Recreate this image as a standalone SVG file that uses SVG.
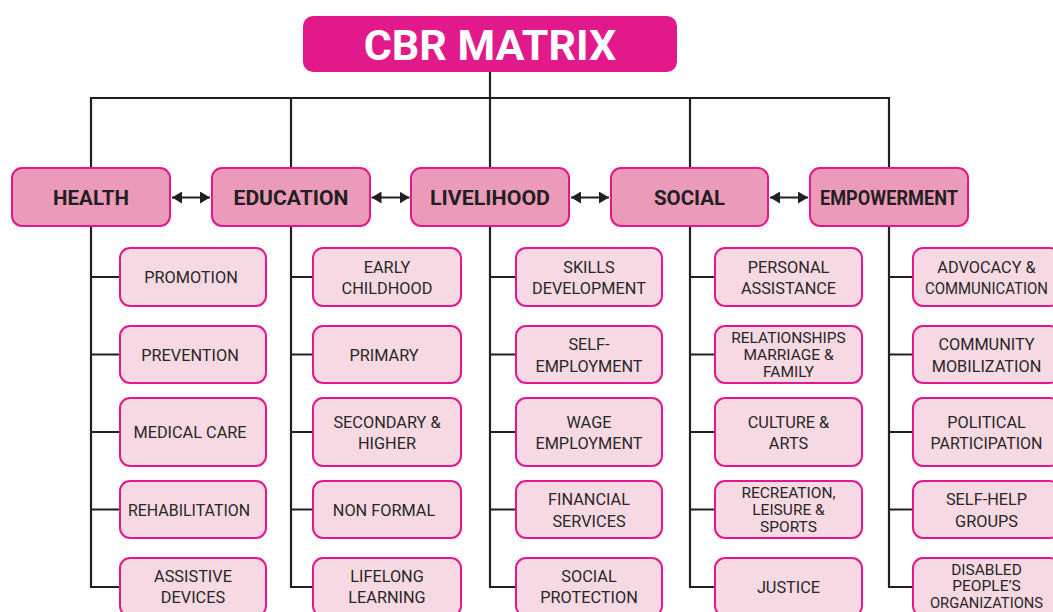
<svg xmlns="http://www.w3.org/2000/svg" width="1053" height="612" viewBox="0 0 1053 612">
<style>
.ln{fill:none;stroke:#231F20;stroke-width:2.2}
.ar{fill:none;stroke:#231F20;stroke-width:2.2;marker-start:url(#ah);marker-end:url(#ah)}
.title{fill:#E2198A}
.tt{font-family:Roboto,"Liberation Sans",sans-serif;font-weight:700;font-size:43px;fill:#fff;text-anchor:middle}
.cat{fill:#EC9ABA;stroke:#E4188C;stroke-width:2}
.ct{font-family:Roboto,"Liberation Sans",sans-serif;font-weight:700;font-size:20.5px;fill:#231F20;text-anchor:middle}
.ch{fill:#F6D9E3;stroke:#E4188C;stroke-width:2}
.t{font-family:Roboto,"Liberation Sans",sans-serif;font-size:16.3px;fill:#2A2627;text-anchor:middle}
.t3{font-family:Roboto,"Liberation Sans",sans-serif;font-size:15.5px;fill:#2A2627;text-anchor:middle}
</style>
<defs>
<marker id="ah" viewBox="0 0 10 12" refX="10" refY="6" markerUnits="userSpaceOnUse" markerWidth="10" markerHeight="12" orient="auto-start-reverse">
<path d="M0,0 L10,6 L0,12 Z" fill="#231F20"/>
</marker>
</defs>

<g id="connectors">
<path class="ln" d="M490,72 V98 M91,168 V98 H889 V168 M291,98 V168 M490,98 V168 M690,98 V168"/>
<path class="ln" d="M91,226 V587 H120 M91,277 H120 M91,354.5 H120 M91,432 H120 M91,509.5 H120"/>
<path class="ln" d="M291,226 V587 H313 M291,277 H313 M291,354.5 H313 M291,432 H313 M291,509.5 H313"/>
<path class="ln" d="M490,226 V587 H516 M490,277 H516 M490,354.5 H516 M490,432 H516 M490,509.5 H516"/>
<path class="ln" d="M690,226 V587 H715 M690,277 H715 M690,354.5 H715 M690,432 H715 M690,509.5 H715"/>
<path class="ln" d="M889,226 V587 H913 M889,277 H913 M889,354.5 H913 M889,432 H913 M889,509.5 H913"/>
<path class="ar" d="M172,197.5 H210"/>
<path class="ar" d="M371.5,197.5 H409.5"/>
<path class="ar" d="M571,197.5 H609"/>
<path class="ar" d="M770,197.5 H808"/>
</g>

<g id="title">
<rect class="title" x="303" y="16" width="374" height="56" rx="10"/>
<text class="tt" x="490" y="60">CBR MATRIX</text>
</g>

<g id="health">
<rect class="cat" x="12" y="168" width="158" height="58" rx="10"/>
<text class="ct" x="91" y="204.5">HEALTH</text>
</g>
<g id="education">
<rect class="cat" x="212" y="168" width="158" height="58" rx="10"/>
<text class="ct" x="291" y="204.5" textLength="115" lengthAdjust="spacingAndGlyphs">EDUCATION</text>
</g>
<g id="livelihood">
<rect class="cat" x="411" y="168" width="158" height="58" rx="10"/>
<text class="ct" x="490" y="204.5" textLength="120" lengthAdjust="spacingAndGlyphs">LIVELIHOOD</text>
</g>
<g id="social">
<rect class="cat" x="611" y="168" width="157" height="58" rx="10"/>
<text class="ct" x="689.5" y="204.5">SOCIAL</text>
</g>
<g id="empowerment">
<rect class="cat" x="810" y="168" width="158" height="58" rx="10"/>
<text class="ct" x="889" y="204.5" textLength="138" lengthAdjust="spacingAndGlyphs">EMPOWERMENT</text>
</g>

<!-- Health children -->
<g id="h1"><rect class="ch" x="120" y="248" width="146" height="58" rx="10"/><text class="t" x="191" y="283">PROMOTION</text></g>
<g id="h2"><rect class="ch" x="120" y="326" width="146" height="57" rx="10"/><text class="t" x="190" y="360.5">PREVENTION</text></g>
<g id="h3"><rect class="ch" x="120" y="398" width="146" height="68" rx="10"/><text class="t" x="190" y="438">MEDICAL CARE</text></g>
<g id="h4"><rect class="ch" x="120" y="481" width="146" height="57" rx="10"/><text class="t" x="189" y="515.5" textLength="122" lengthAdjust="spacingAndGlyphs">REHABILITATION</text></g>
<g id="h5"><rect class="ch" x="120" y="558" width="146" height="58" rx="10"/><text class="t" x="193" y="582">ASSISTIVE</text><text class="t" x="193" y="603">DEVICES</text></g>

<!-- Education children -->
<g id="e1"><rect class="ch" x="313" y="248" width="148" height="58" rx="10"/><text class="t" x="387" y="272.5">EARLY</text><text class="t" x="387" y="294">CHILDHOOD</text></g>
<g id="e2"><rect class="ch" x="313" y="326" width="148" height="57" rx="10"/><text class="t" x="384" y="360.5">PRIMARY</text></g>
<g id="e3"><rect class="ch" x="313" y="398" width="148" height="68" rx="10"/><text class="t" x="387" y="427.5">SECONDARY &amp;</text><text class="t" x="387" y="449">HIGHER</text></g>
<g id="e4"><rect class="ch" x="313" y="481" width="148" height="57" rx="10"/><text class="t" x="384" y="515.5">NON FORMAL</text></g>
<g id="e5"><rect class="ch" x="313" y="558" width="148" height="58" rx="10"/><text class="t" x="387" y="582">LIFELONG</text><text class="t" x="387" y="603">LEARNING</text></g>

<!-- Livelihood children -->
<g id="l1"><rect class="ch" x="516" y="248" width="146" height="58" rx="10"/><text class="t" x="589" y="272.5">SKILLS</text><text class="t" x="589" y="294">DEVELOPMENT</text></g>
<g id="l2"><rect class="ch" x="516" y="326" width="146" height="57" rx="10"/><text class="t" x="589" y="350">SELF-</text><text class="t" x="589" y="371.5">EMPLOYMENT</text></g>
<g id="l3"><rect class="ch" x="516" y="398" width="146" height="68" rx="10"/><text class="t" x="589" y="427.5">WAGE</text><text class="t" x="589" y="449">EMPLOYMENT</text></g>
<g id="l4"><rect class="ch" x="516" y="481" width="146" height="57" rx="10"/><text class="t" x="589" y="505">FINANCIAL</text><text class="t" x="589" y="526.5">SERVICES</text></g>
<g id="l5"><rect class="ch" x="516" y="558" width="146" height="58" rx="10"/><text class="t" x="589" y="582">SOCIAL</text><text class="t" x="589" y="603">PROTECTION</text></g>

<!-- Social children -->
<g id="s1"><rect class="ch" x="715" y="248" width="147" height="58" rx="10"/><text class="t" x="788.5" y="272.5">PERSONAL</text><text class="t" x="788.5" y="294">ASSISTANCE</text></g>
<g id="s2"><rect class="ch" x="715" y="326" width="147" height="57" rx="10"/><text class="t3" x="788.5" y="343">RELATIONSHIPS</text><text class="t3" x="788.5" y="360">MARRIAGE &amp;</text><text class="t3" x="788.5" y="377">FAMILY</text></g>
<g id="s3"><rect class="ch" x="715" y="398" width="147" height="68" rx="10"/><text class="t" x="788.5" y="427.5">CULTURE &amp;</text><text class="t" x="788.5" y="449">ARTS</text></g>
<g id="s4"><rect class="ch" x="715" y="481" width="147" height="57" rx="10"/><text class="t3" x="788.5" y="498">RECREATION,</text><text class="t3" x="788.5" y="515">LEISURE &amp;</text><text class="t3" x="788.5" y="532">SPORTS</text></g>
<g id="s5"><rect class="ch" x="715" y="558" width="147" height="58" rx="10"/><text class="t" x="788.5" y="593">JUSTICE</text></g>

<!-- Empowerment children -->
<g id="p1"><rect class="ch" x="913" y="248" width="147" height="58" rx="10"/><text class="t" x="986.5" y="272.5">ADVOCACY &amp;</text><text class="t" x="986.5" y="294" textLength="123" lengthAdjust="spacingAndGlyphs">COMMUNICATION</text></g>
<g id="p2"><rect class="ch" x="913" y="326" width="147" height="57" rx="10"/><text class="t" x="986.5" y="350">COMMUNITY</text><text class="t" x="986.5" y="371.5">MOBILIZATION</text></g>
<g id="p3"><rect class="ch" x="913" y="398" width="147" height="68" rx="10"/><text class="t" x="986.5" y="427.5">POLITICAL</text><text class="t" x="986.5" y="449" textLength="112" lengthAdjust="spacingAndGlyphs">PARTICIPATION</text></g>
<g id="p4"><rect class="ch" x="913" y="481" width="147" height="57" rx="10"/><text class="t" x="986.5" y="505">SELF-HELP</text><text class="t" x="986.5" y="526.5">GROUPS</text></g>
<g id="p5"><rect class="ch" x="913" y="558" width="147" height="58" rx="10"/><text class="t3" x="986.5" y="574.5">DISABLED</text><text class="t3" x="986.5" y="591">PEOPLE’S</text><text class="t3" x="986.5" y="608" textLength="113" lengthAdjust="spacingAndGlyphs">ORGANIZATIONS</text></g>
</svg>
